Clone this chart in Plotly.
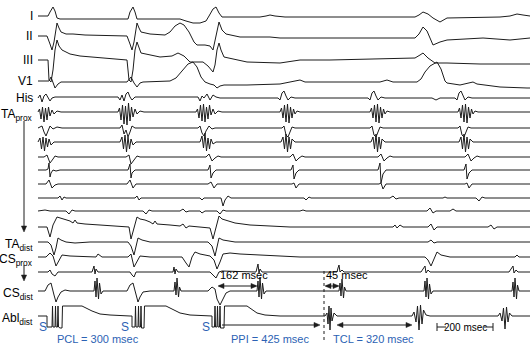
import plotly.graph_objects as go

# ---- data: each channel = list of (time, deflection) vertices
# time unit ~3.6 msec (x-axis 0..530), deflection in display units (positive = up)

lead_I = [(38,0),(48,0),(50,4),(53,9),(55,5),(57,-2),(60,-3),(128,-3),(130,4),(133,9),(135,4),(137,-3),(140,-3),
          (180,-3),(186,-5),(193,-7),(200,-7),(206,-5),(209,0),(213,7),(216,9),(219,3),(222,-1),(260,-1),(266,0),
          (270,1),(275,0),(285,-1),(415,-1),(419,1),(423,4),(428,2),(433,-2),(440,-6),(447,-2),(500,-1),(510,0),
          (517,2),(523,1),(530,0)]
lead_II = [(38,0),(47,0),(50,-8),(52,-14),(54,-6),(56,10),(57,13),(59,8),(61,4),(66,2),(73,2),(85,1),(127,0),
           (130,-8),(132,-14),(134,-6),(136,10),(137,13),(139,8),(141,4),(150,2),(165,1),(170,4),(175,10),(180,13),
           (184,11),(189,4),(194,-6),(197,-9),(205,-9),(210,-10),(213,-14),(216,0),(219,14),(222,6),(226,2),(240,-1),
           (270,-1),(280,-2),(415,-2),(419,2),(423,9),(427,5),(430,-3),(433,-9),(440,-6),(447,-4),(483,-2),(510,-4),(530,-2)]
lead_III = [(38,0),(48,0),(49,-20),(51,-22),(53,-10),(55,10),(57,20),(59,14),(62,10),(70,6),(80,4),(100,2),(127,0),
            (129,-20),(131,-22),(133,-10),(135,10),(137,18),(139,12),(141,7),(160,3),(172,4),(178,7),(184,4),(190,-2),
            (203,-2),(208,-6),(213,-12),(215,-5),(217,10),(219,17),(221,10),(224,3),(247,-2),(280,-3),(300,0),(330,0),
            (415,2),(420,5),(423,7),(428,2),(435,-3),(447,-3),(480,-4),(530,-4)]
lead_V1 = [(38,0),(49,0),(51,4),(53,-2),(55,-7),(58,-3),(61,-1),(127,-1),(131,4),(134,-2),(137,-6),(140,-2),(143,-1),
           (170,0),(176,3),(182,10),(188,17),(193,19),(197,14),(201,4),(205,-1),(210,-3),(214,-4),(217,-7),(220,-5),
           (224,-4),(247,-4),(280,-3),(295,0),(300,1),(305,-1),(330,-1),(380,-1),(387,1),(393,-1),(417,-1),(421,2),
           (425,9),(430,15),(437,19),(441,12),(445,0),(447,-2),(460,-4),(470,-2),(473,-1),(477,-3),(500,-6),(527,-7),(530,-7)]
his = [(38,0),(40,3),(42,-4),(44,2),(46,4),(48,1),(50,-3),(52,0),(55,1),(118,1),(120,-2),(122,3),(124,-3),(126,4),
       (128,6),(130,1),(132,-2),(135,1),(198,1),(200,-3),(202,2),(204,0),(207,4),(210,-2),(213,3),(216,1),(220,0),
       (278,0),(280,-2),(282,5),(284,7),(286,2),(288,-2),(291,1),(295,0),(368,0),(370,-2),(372,5),(374,7),(376,2),
       (378,-2),(381,1),(385,0),(432,0),(436,-2),(440,0),(455,0),(457,-2),(459,5),(461,7),(463,2),(465,-2),(468,1),
       (472,0),(530,0)]
ta_prox = [(38,0),(39.5,3),(41,-7),(42.5,5),(44,-10),(45.5,4),(47,-8),(48.5,5),(50,-4),(52,2),(54,-2),(57,1),(61,0),
           (118,0),(119.5,4),(121,-8),(122.5,7),(124,-12),(125.5,6),(127,-13),(128.5,9),(130,-9),(131.5,5),(133,-5),(135,3),(137,-2),(140,1),(144,0),
           (196,0),(197.5,3),(199,-6),(200.5,7),(202,-9),(203.5,8),(205,-10),(206.5,5),(208,-7),(209.5,7),(211,-3),(213,3),(215,-2),(218,1),(222,0),
           (280,0),(281.5,4),(283,-6),(284.5,7),(286,-10),(287.5,8),(289,-11),(290.5,5),(292,-6),(293.5,3),(295,-2),(297,1),(300,0),
           (370,0),(371.5,4),(373,-6),(374.5,7),(376,-10),(377.5,8),(379,-11),(380.5,5),(382,-6),(383.5,3),(385,-2),(387,1),(390,0),
           (458,0),(459.5,4),(461,-6),(462.5,7),(464,-10),(465.5,8),(467,-11),(468.5,5),(470,-6),(471.5,3),(473,-2),(475,1),(478,0),(530,0)]
ta_2 = [(38,0),(42,2),(44,-4),(46,-8),(48,-3),(50,2),(53,-1),(57,1),(62,0),
        (120,0),(122,3),(124,-6),(126,-2),(128,-9),(130,-4),(132,2),(135,0),
        (198,0),(200,2),(202,-5),(204,-8),(206,-3),(209,2),(212,-1),(215,0),
        (282,0),(284,2),(286,-7),(288,-9),(290,-3),(292,1),(295,0),
        (370,0),(372,2),(374,-7),(376,-9),(378,-3),(380,1),(383,0),
        (458,0),(460,2),(462,-7),(464,-9),(466,-3),(468,1),(471,0),(530,0)]
ta_3 = [(38,0),(40,4),(41.5,-7),(43,5),(44.5,-9),(46,4),(47.5,-5),(49,3),(51,-3),(54,0),
        (120,0),(122,5),(123.5,-7),(125,7),(126.5,-10),(128,5),(129.5,-7),(131,3),(133,-3),(136,0),
        (200,0),(202,6),(203.5,-6),(205,9),(206.5,-9),(208,4),(209.5,-7),(211,3),(213,-2),(216,0),
        (281,0),(283,5),(284.5,-7),(286,8),(287.5,-10),(289,5),(290.5,-7),(292,3),(295,0),
        (371,0),(373,5),(374.5,-7),(376,8),(377.5,-10),(379,5),(380.5,-7),(382,3),(385,0),
        (459,0),(461,5),(462.5,-7),(464,8),(465.5,-10),(467,5),(468.5,-7),(470,3),(473,0),(530,0)]
ta_4 = [(38,0),(44,0),(47,2),(50,-6),(53,-2),(55,1),(58,0),
        (126,0),(129,2),(131,-7),(134,-3),(137,1),(140,0),
        (206,0),(209,3),(212,-4),(215,-1),(218,1),(221,0),
        (290,0),(293,3),(296,-4),(299,-1),(302,1),(305,0),
        (378,0),(381,3),(384,-4),(387,-1),(390,1),(393,0),
        (465,0),(468,3),(471,-4),(474,-1),(477,1),(480,0),(530,0)]
ta_5 = [(38,0),(46,0),(48,1),(49,7),(50,-7),(51,-3),(53,0),(56,-1),(60,0),
        (128,0),(130,6),(131,-8),(132,-3),(135,0),
        (208,0),(210,5),(211,-8),(213,-3),(216,0),
        (291,0),(293,5),(294,-9),(296,-3),(299,0),
        (378,0),(380,7),(381,-13),(383,-4),(386,0),
        (464,0),(466,6),(467,-9),(469,-3),(472,0),(530,0)]
ta_6 = [(38,0),(46,0),(49,4),(52,-4),(55,-1),(58,0),
        (127,0),(130,4),(133,-4),(136,0),
        (208,0),(211,2),(214,-4),(217,0),
        (292,0),(294,1),(296,-4),(299,0),
        (379,0),(381,1),(383,-5),(386,0),
        (465,0),(467,1),(469,-4),(472,0),(530,0)]
ta_7 = [(38,0),(58,0),(60,2),(62,-2),(64,1),(66,0),
        (135,0),(137,2),(139,-2),(141,0),
        (200,0),(202,-2),(204,0),(221,0),(223,-8),(225,-2),(228,2),(231,0),
        (304,0),(306,-2),(309,1),(311,0),
        (390,0),(393,2),(396,-1),(399,0),(443,0),(445,1),(447,0),
        (476,0),(479,-3),(482,1),(485,0),(530,0)]
ta_8 = [(38,0),(45,1),(50,0),(66,0),(69,-3),(72,1),(75,0),(143,0),(146,-3),(149,1),(152,0),
        (180,0),(183,2),(186,-1),(189,0),(200,0),(202,-2),(205,0),(217,0),(220,-3),(223,1),(226,0),
        (300,0),(303,1),(306,0),(427,0),(430,3),(433,-2),(436,0),(450,0),(453,2),(456,0),(530,0)]
ta_9 = [(38,0),(47,0),(50,-10),(53,2),(57,10),(60,9),(65,8),(70,6),(73,4),(75,7),(77,4),(85,3),(100,2),(120,1),(129,0),
        (131,-12),(134,0),(137,10),(140,8),(145,7),(150,5),(153,3),(155,6),(157,3),(170,2),(180,1),(183,3),(186,-1),(189,1),(200,0),
        (210,-1),(213,-12),(216,0),(219,11),(222,8),(228,6),(235,4),(250,2),(270,1),(290,0),
        (393,0),(395,2),(397,-1),(400,2),(403,0),(428,0),(431,3),(434,-3),(437,0),(488,0),(491,2),(494,-2),(497,0),(530,0)]
ta_dist = [(38,0),(48,0),(51,-3),(54,-13),(56,-6),(58,4),(61,2),(66,0),(75,-1),(90,0),
           (128,0),(131,-4),(134,-13),(136,-5),(138,4),(142,2),(150,0),
           (208,0),(212,-4),(215,-14),(217,-6),(219,4),(223,2),(235,0),
           (428,0),(431,2),(434,-1),(437,0),(530,0)]
cs_prox = [(38,0),(46,0),(50,4),(53,1),(56,-9),(59,-3),(62,2),(70,1),(90,0),(96,0),(98,3),(100,1),(102,0),
           (128,0),(131,3),(134,-10),(137,-4),(140,1),(150,0),
           (182,0),(186,-6),(189,-10),(192,0),(195,5),(200,3),(205,2),(210,1),
           (214,-3),(217,-12),(220,-5),(223,3),(230,4),(240,3),(260,2),(280,1),(300,0),
           (425,0),(428,-3),(431,-9),(434,-2),(437,5),(441,2),(450,0),(515,0),(517,2),(519,0),(530,0)]
cs_mid = [(38,0),(48,0),(50,2),(52,-2),(55,-4),(58,0),(92,0),(93,3),(94,6),(95,-2),(96,3),(98,0),
          (130,0),(132,-3),(134,-5),(136,0),(173,0),(174,5),(175,-2),(176,3),(178,0),
          (210,0),(213,-3),(216,-6),(219,0),(222,1),(256,0),(257,5),(258,8),(259,-1),(260,3),(262,0),
          (337,0),(338,4),(339,7),(340,0),(342,2),(344,0),(421,0),(423,3),(425,6),(426,-1),(428,2),(430,0),
          (509,0),(511,3),(513,6),(514,-1),(516,2),(518,0),(530,0)]
cs_dist = [(38,0),(45,0),(48,6),(51,8),(54,-4),(56,-11),(58,-6),(61,-1),(65,1),(70,0),
           (94,0),(95,10),(96,-6),(97,13),(98.5,-8),(99.5,8),(101,-3),(103,0),
           (127,0),(130,6),(133,8),(136,-4),(138,-11),(140,-6),(143,-1),(150,0),
           (174,0),(175,9),(176,-4),(177,13),(178.5,-6),(179.5,4),(181,0),
           (208,0),(212,4),(215,2),(217,-8),(220,-14),(223,-8),(226,-2),(230,0),
           (257,0),(258,10),(259,-6),(260,14),(261.5,-8),(262.5,8),(264,-3),(266,0),
           (339,0),(340,8),(341,-5),(342,12),(343.5,-7),(344.5,4),(346,0),
           (424,0),(425,10),(426,-6),(427,13),(428.5,-8),(429.5,7),(431,-3),(433,0),
           (512,0),(513,9),(514,-6),(515,13),(516.5,-8),(517.5,6),(519,0),(530,0)]
abl_dist = [(38,0),(47,0),(47,-11),(52,-11),(52.5,10),(53,-11),(55,-11),(55.5,10),(56,-11),(57.5,-11),(58,10),
            (58.5,-11),(60,-12),(62,-12),(62.5,10),(82,10),(86,8),(92,5),(100,2),(110,1),(130,0),
            (132,0),(132,-11),(135,-11),(135.5,10),(136,-11),(138,-11),(138.5,10),(139,-11),(140.5,-11),(141,10),
            (141.5,-12),(144,-12),(144.5,10),(166,10),(170,8),(175,5),(180,3),(190,1),(210,0),
            (212,0),(212,-11),(214.5,-11),(215,10),(215.5,-11),(217,-11),(217.5,10),(218,-11),(219.5,-11),(220,10),
            (220.5,-12),(224,-12),(224.5,10),(247,10),(251,7),(257,3),(265,1),(280,0),
            (325,0),(327,3),(328,-8),(329,10),(330,-14),(331,8),(332,-5),(334,3),(337,0),
            (412,0),(414,4),(416,-6),(417.5,10),(419,-14),(420.5,11),(422,-8),(423.5,6),(426,1),(430,0),
            (498,0),(500,3),(502,-5),(503.5,8),(505,-13),(506.5,9),(508,-6),(509.5,3),(512,0),(530,0)]

channel_labels = ["I", "II", "III", "V1", "His", "TA<sub>prox</sub>", "", "", "", "", "", "", "", "",
                  "TA<sub>dist</sub>", "CS<sub>prox</sub>", "", "CS<sub>dist</sub>", "Abl<sub>dist</sub>"]
channel_levels = [16, 36, 60, 81, 98, 112, 128, 142, 157, 170, 184, 198, 211, 227, 242, 257, 272, 291, 316]
channel_data = [lead_I, lead_II, lead_III, lead_V1, his, ta_prox, ta_2, ta_3, ta_4, ta_5, ta_6, ta_7, ta_8, ta_9,
                ta_dist, cs_prox, cs_mid, cs_dist, abl_dist]

stim_times = [43, 125, 206]
interval_text = ["PCL = 300 msec", "PPI = 425 msec", "TCL = 320 msec"]
interval_pos = [98, 270, 373]

BLUE = "#2c62b4"
INK = "#1c1c1c"
FONT = "Arial, Liberation Sans, sans-serif"

fig = go.Figure()
for lvl, pts in zip(channel_levels, channel_data):
    fig.add_trace(go.Scatter(x=[p[0] for p in pts], y=[lvl - p[1] for p in pts], mode="lines",
                             line=dict(color=INK, width=1), hoverinfo="skip", showlegend=False))

ann = []
for lab, lvl in zip(channel_labels, channel_levels):
    if lab:
        ann.append(dict(x=35, y=lvl + (3 if "<sub>" in lab else 0), text=lab, showarrow=False,
                        xanchor="right", yanchor="middle", font=dict(size=12, color="black", family=FONT)))
for s in stim_times:
    ann.append(dict(x=s, y=327, text="S", showarrow=False, font=dict(size=12, color=BLUE, family=FONT)))
for t, xp in zip(interval_text, interval_pos):
    ann.append(dict(x=xp, y=339, text=t, showarrow=False, font=dict(size=11, color=BLUE, family=FONT)))

ann.append(dict(x=244, y=275, text="162 msec", showarrow=False, font=dict(size=11, color="black", family=FONT)))
ann.append(dict(x=347, y=275, text="45 msec", showarrow=False, font=dict(size=11, color="black", family=FONT)))
ann.append(dict(x=465, y=327, text="200 msec", showarrow=False, font=dict(size=10, color="black", family=FONT)))

shapes = []

def seg(x0, y0, x1, y1, dash="solid"):
    shapes.append(dict(type="line", x0=x0, x1=x1, y0=y0, y1=y1, line=dict(color=INK, width=1, dash=dash)))

def head(x, y, direction):
    L, W = 6, 2.6
    if direction == "right":
        p = f"M {x},{y} L {x-L},{y-W} L {x-L},{y+W} Z"
    elif direction == "left":
        p = f"M {x},{y} L {x+L},{y-W} L {x+L},{y+W} Z"
    else:  # down (y axis reversed: larger y is lower)
        p = f"M {x},{y} L {x-W},{y-L} L {x+W},{y-L} Z"
    shapes.append(dict(type="path", path=p, fillcolor=INK, line=dict(color=INK, width=0.5)))

# vertical guide arrows at the left
seg(24, 121, 24, 228); head(24, 232, "down")
seg(24, 265, 24, 277); head(24, 281, "down")
# 162 msec and 45 msec intervals
seg(219, 286, 256, 286); head(218, 286, "left"); head(257, 286, "right")
seg(326, 286, 338, 286); head(325, 286, "left"); head(339, 286, "right")
# PPI and TCL arrows
seg(222, 325, 316, 325); head(320, 325, "right")
seg(341, 325, 408, 325); head(337, 325, "left"); head(412, 325, "right")
# dashed marker at the return cycle
seg(324, 271, 324, 343, dash="dot")
# 200 msec scale bar
seg(437, 323, 437, 331); seg(493, 323, 493, 331); seg(437, 327, 446, 327); seg(484, 327, 493, 327)

fig.update_layout(width=530, height=345, margin=dict(l=0, r=0, t=0, b=0),
                  paper_bgcolor="white", plot_bgcolor="white",
                  xaxis=dict(range=[0, 530], visible=False, fixedrange=True),
                  yaxis=dict(range=[345, 0], visible=False, fixedrange=True),
                  annotations=ann, shapes=shapes)
fig.write_html("out.html")
